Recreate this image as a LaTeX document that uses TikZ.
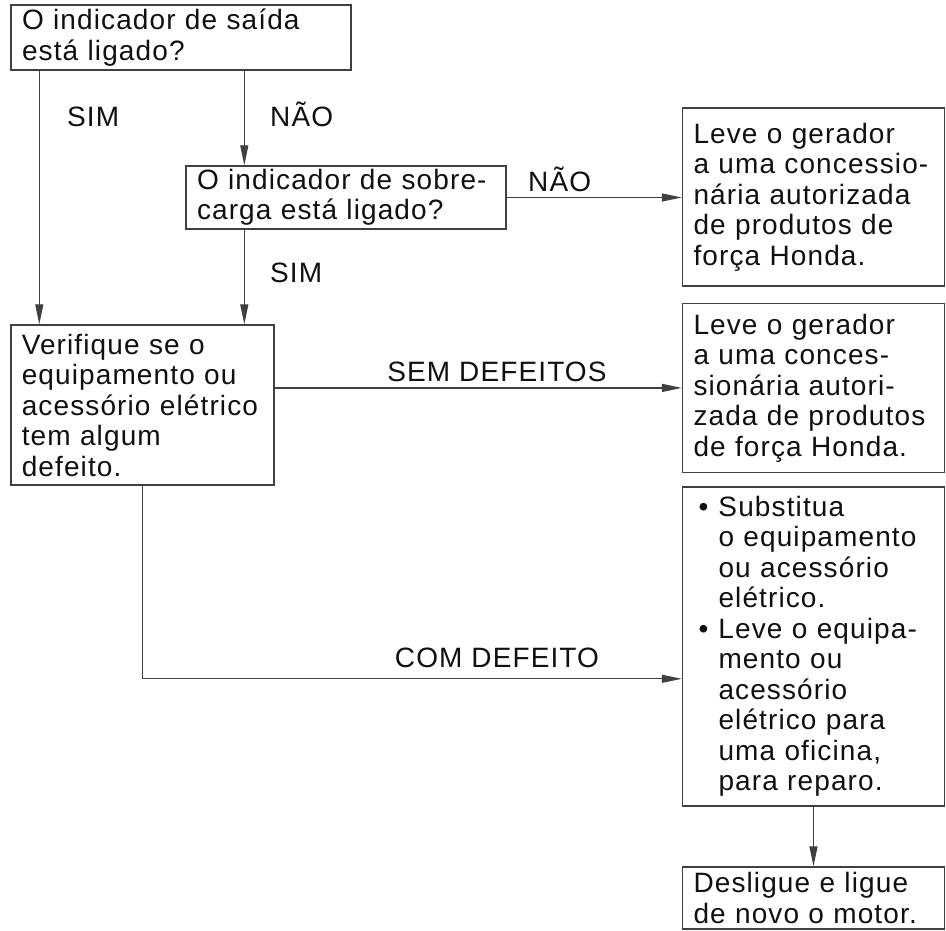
\documentclass[tikz,border=0pt]{standalone}
\usepackage{fontspec}
\setmainfont{Liberation Sans}[LetterSpace=4]
\usepackage{tikz}
\usetikzlibrary{arrows.meta,positioning}
\definecolor{FlowLine}{HTML}{404040}
\definecolor{FlowInk}{HTML}{101010}

\begin{document}
\begin{tikzpicture}[x=1pt,y=-1pt,
  box/.style={draw=FlowLine, line width=1.4pt, text=FlowInk, align=left,
              inner xsep=11pt, inner ysep=0pt, font=\fontsize{28}{30.5}\selectfont},
  arr/.style={draw=FlowLine, line width=1.3pt, -{Triangle[length=20pt,width=8pt]}},
  lbl/.style={text=FlowInk, inner sep=0pt, font=\fontsize{28}{30.5}\selectfont}]
  \useasboundingbox (0,0) rectangle (946,931);

  % left column
  \node[box, text width=318pt, minimum height=65pt] (out) at (181,37.5)
    {O indicador de saída\\está ligado?};
  \node[box, text width=298pt, minimum height=63pt] (over) at (346,197.5)
    {O indicador de sobre-\\carga está ligado?};
  \node[box, text width=241pt, minimum height=160pt] (check) at (142.3,405)
    {Verifique se o\\equipamento ou\\acessório elétrico\\tem algum\\defeito.};

  % right column
  \node[box, text width=240pt, minimum height=178pt] (dealerA) at (813.5,197)
    {Leve o gerador\\a uma concessio-\\nária autorizada\\de produtos de\\força Honda.};
  \node[box, text width=240pt, minimum height=169pt, below=16pt of dealerA] (dealerB)
    {Leve o gerador\\a uma conces-\\sionária autori-\\zada de produtos\\de força Honda.};
  \node[box, text width=240pt, minimum height=319pt, below=13pt of dealerB] (repair)
    {\hspace*{5pt}\makebox[20pt][l]{\textbullet}Substitua\\
     \hspace*{25pt}o equipamento\\
     \hspace*{25pt}ou acessório\\
     \hspace*{25pt}elétrico.\\
     \hspace*{5pt}\makebox[20pt][l]{\textbullet}Leve o equipa-\\
     \hspace*{25pt}mento ou\\
     \hspace*{25pt}acessório\\
     \hspace*{25pt}elétrico para\\
     \hspace*{25pt}uma oficina,\\
     \hspace*{25pt}para reparo.};
  \node[box, text width=240pt, minimum height=62pt] (restart) at (813.5,898)
    {Desligue e ligue\\de novo o motor.};

  % connectors
  \draw[arr] ([xshift=29pt]out.south west) -- ([xshift=29pt]out.south west |- check.north);
  \draw[arr] ([xshift=234pt]out.south west) -- ([xshift=234pt]out.south west |- over.north);
  \draw[arr] ([xshift=59pt]over.south west) -- ([xshift=59pt]over.south west |- check.north);
  \draw[arr] (over.east) -- (over.east -| dealerA.west);
  \draw[arr] (check.east |- dealerB.west) -- (dealerB.west);
  \coordinate (bend) at ([yshift=-32.5pt]repair.west);
  \draw[arr] (check.south) |- (bend);
  \draw[arr] (repair.south) -- (restart.north);

  % labels
  \node[lbl, anchor=base west] (simA) at (67,127) {SIM};
  \node[lbl, anchor=base west] (naoA) at (270,127) {NÃO};
  \node[lbl, anchor=base west] (simB) at (270,282) {SIM};
  \node[lbl, anchor=base west] (naoB) at (528,192) {NÃO};
  \node[lbl, anchor=base] (okLbl) at (497,381) {SEM DEFEITOS};
  \node[lbl, anchor=base] (badLbl) at (497,667) {COM DEFEITO};
\end{tikzpicture}
\end{document}
